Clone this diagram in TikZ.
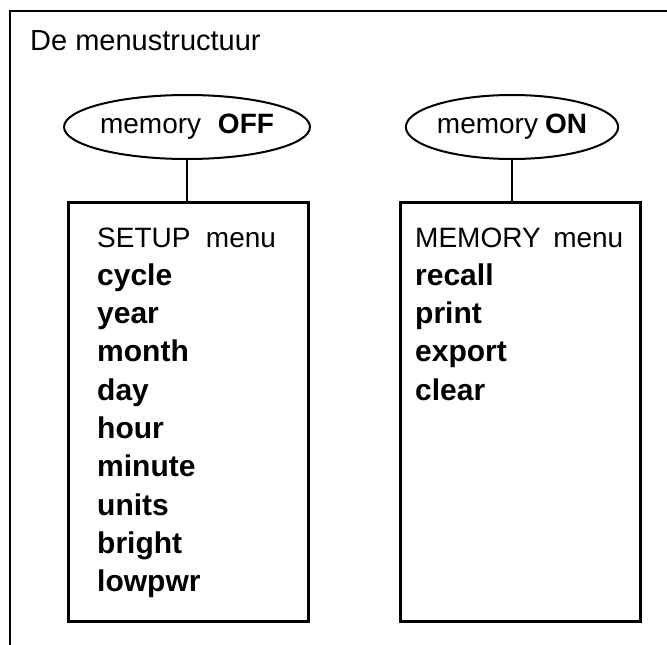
\documentclass[tikz,border=0pt]{standalone}
\usepackage{fontspec}
\setmainfont{Liberation Sans}
\usetikzlibrary{shapes.geometric}
\begin{document}
\begin{tikzpicture}[x=1pt,y=-1pt,
  txt/.style={font=\fontsize{28}{34}\selectfont, inner sep=0pt, anchor=base west},
  btxt/.style={txt, font=\fontsize{30}{34}\selectfont\bfseries},
  oval/.style={ellipse, draw, line width=2pt, minimum width=203pt, minimum height=64pt, inner sep=0pt, font=\fontsize{28}{34}\selectfont},
  menubox/.style={rectangle, draw, line width=2.5pt, minimum width=240pt, minimum height=419pt, inner sep=0pt, anchor=north west},
  link/.style={line width=2pt}]
\useasboundingbox (0,0) rectangle (667,645);
% outer frame (open on right and bottom)
\coordinate (fb) at (10,645);
\coordinate (fc) at (10,11);
\coordinate (fr) at (667,11);
\draw[line width=2.5pt] (fb) -- (fc) -- (fr);
\node[txt, font=\fontsize{29}{34}\selectfont] (title) at (30,50) {De menustructuur};
% ovals
\node[oval] (off) at (187,127) {memory\hspace{0.6em}\textbf{OFF}};
\node[oval] (on) at (512,127) {memory\hspace{0.25em}\textbf{ON}};
% boxes
\node[menubox] (setup) at (67,201) {};
\node[menubox] (mem) at (399,201) {};
\draw[link] (off.south) -- (off.south |- setup.north);
\draw[link] (on.south) -- (on.south |- mem.north);
% box texts
\node[txt] (sh) at (97,247) {SETUP\hspace{0.55em}menu};
\foreach \w [count=\i] in {cycle,year,month,day,hour,minute,units,bright,lowpwr}
  \node[btxt] (s\i) at (97,{247+38.3*\i}) {\w};
\node[txt] (mh) at (415,247) {MEMORY\hspace{0.45em}menu};
\foreach \w [count=\i] in {recall,print,export,clear}
  \node[btxt] (m\i) at (415,{247+38.3*\i}) {\w};
\end{tikzpicture}
\end{document}
